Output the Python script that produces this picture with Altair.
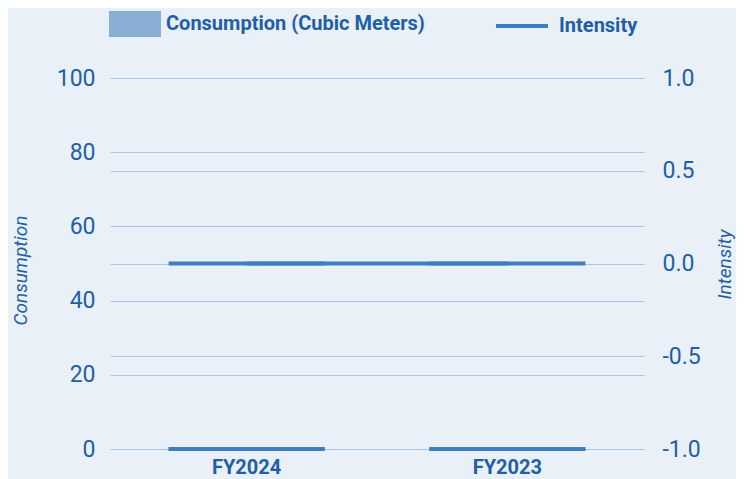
import altair as alt
import pandas as pd

years = ["FY2024", "FY2023"]
consumption = [0, 0]
intensity = [0, 0]

series_bar = "Consumption (Cubic Meters)"
series_line = "Intensity"

df = pd.DataFrame({"Year": years, "Consumption": consumption, "Intensity": intensity})

TEXT = "#1f5fa7"
GRID = "#a9c6e4"
LINE = "#3e7fbf"
BAR = "#8aafd5"
FONT = "Roboto"

x_enc = alt.X(
    "Year:N",
    sort=years,
    scale=alt.Scale(paddingInner=0.4, paddingOuter=0.224),
    axis=alt.Axis(title=None, domain=False, ticks=False, labelAngle=0,
                  labelFont=FONT, labelFontSize=20, labelFontWeight="bold",
                  labelColor=TEXT, labelPadding=8, grid=False),
)

bars = alt.Chart(df).mark_bar(stroke=LINE, strokeWidth=4).encode(
    x=x_enc,
    y=alt.Y("Consumption:Q",
            scale=alt.Scale(domain=[0, 100]),
            axis=alt.Axis(title="Consumption", values=[0, 20, 40, 60, 80, 100],
                          orient="left", domain=False, ticks=False,
                          grid=True, gridColor=GRID, gridWidth=1,
                          labelFont=FONT, labelFontSize=23, labelColor=TEXT,
                          labelPadding=15,
                          titleFont=FONT, titleFontSize=19, titleFontStyle="italic",
                          titleFontWeight="normal", titleColor=TEXT,
                          titleX=-84, titleY=192, titleAngle=270,
                          titleBaseline="alphabetic", titleAlign="center")),
    fill=alt.Fill("s:N", scale=alt.Scale(domain=[series_bar], range=[BAR]),
                  legend=alt.Legend(title=None, orient="none", legendX=-1, legendY=-80,
                                    symbolType="M-1,-0.5H1V0.5H-1Z", symbolSize=2704,
                                    symbolStrokeWidth=0, labelOffset=5,
                                    labelFont=FONT, labelFontSize=20,
                                    labelFontWeight="bold", labelColor=TEXT,
                                    labelLimit=400)),
).transform_calculate(s=f"'{series_bar}'")

right_axis = alt.Axis(title="Intensity", values=[-1, -0.5, 0, 0.5, 1],
                      orient="right", domain=False, ticks=False,
                      grid=True, gridColor=GRID, gridWidth=1,
                      labelExpr="replace(format(datum.value, '.1f'), '\u2212', '-')",
                      labelFont=FONT, labelFontSize=23, labelColor=TEXT,
                      labelPadding=18,
                      titleFont=FONT, titleFontSize=19, titleFontStyle="italic",
                      titleFontWeight="normal", titleColor=TEXT,
                      titleX=86, titleY=186, titleAngle=270,
                      titleBaseline="alphabetic", titleAlign="center")

y_right = alt.Y("Intensity:Q", scale=alt.Scale(domain=[-1, 1]), axis=right_axis)

line = alt.Chart(df).mark_line(strokeWidth=4, strokeCap="butt").encode(
    x=x_enc,
    y=y_right,
    stroke=alt.Stroke("s:N", scale=alt.Scale(domain=[series_line], range=[LINE]),
                      legend=alt.Legend(title=None, orient="none", legendX=384, legendY=-80,
                                        symbolType="M-1,0H1", symbolSize=2704,
                                        symbolStrokeWidth=4, labelOffset=9,
                                        labelFont=FONT, labelFontSize=20,
                                        labelFontWeight="bold", labelColor=TEXT)),
).transform_calculate(s=f"'{series_line}'")

ticks = alt.Chart(df).mark_tick(color=LINE, thickness=4, size=156, opacity=1).encode(
    x=x_enc,
    y=y_right,
)

right = alt.layer(line, ticks)

chart = alt.layer(bars, right).resolve_scale(y="independent").properties(
    width=534, height=371,
    autosize=alt.AutoSizeParams(type="none"),
    padding={"left": 102, "top": 70, "right": 92, "bottom": 30},
    background="#e9f0f8",
).configure_view(stroke=None)

chart.save("out.html", embed_options={"renderer": "svg", "actions": False})
